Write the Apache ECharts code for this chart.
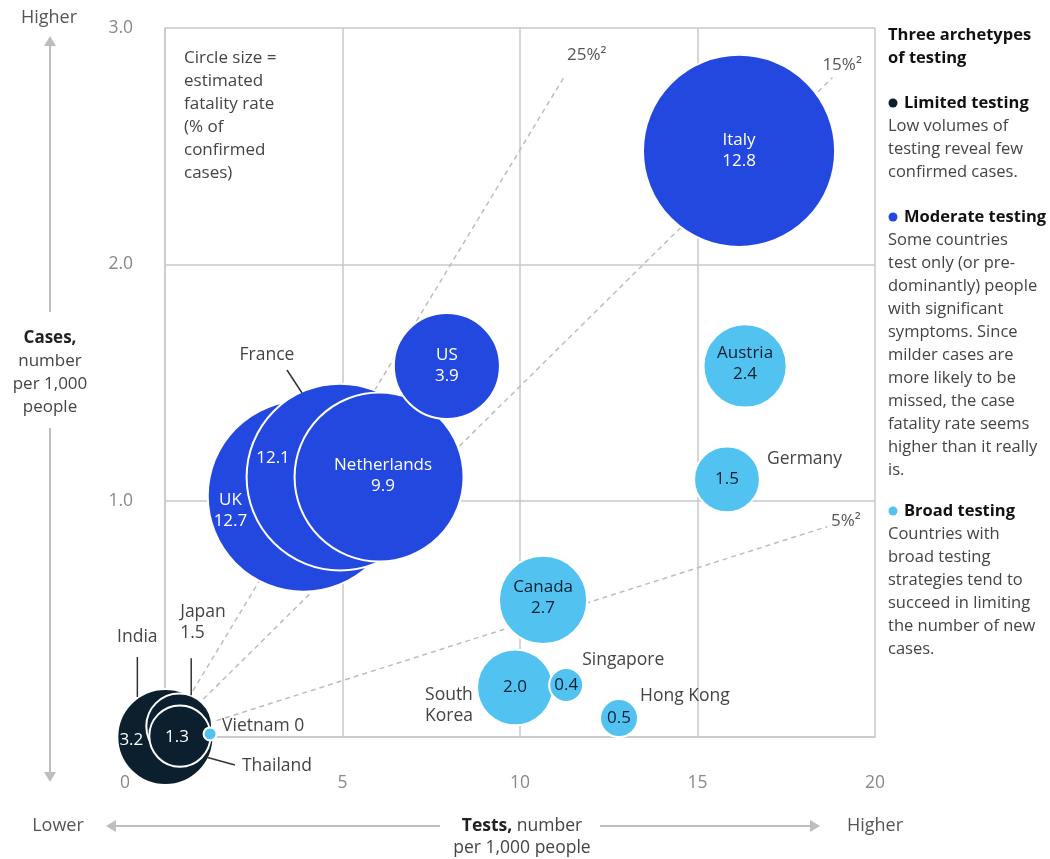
<!DOCTYPE html>
<html><head><meta charset="utf-8">
<script src="https://cdn.jsdelivr.net/npm/echarts@6/dist/echarts.min.js"></script>
<style>html,body{margin:0;padding:0;background:#fff}#c{width:1050px;height:859px}</style>
</head><body><div id="c"></div><script>
// ---------- DATA ----------
const countries = ['India','Japan','Thailand','UK','France','Netherlands','US','Italy','Vietnam','Canada','South Korea','Singapore','Hong Kong','Austria','Germany'];
const testsPer1000 = [0.01, 0.4, 0.42, 3.9, 4.93, 6.03, 7.94, 16.17, 1.27, 10.65, 9.86, 11.3, 12.79, 16.34, 15.83];
const casesPer1000 = [0.0, 0.045, 0.004, 1.02, 1.10, 1.10, 1.57, 2.48, 0.013, 0.58, 0.21, 0.22, 0.08, 1.57, 1.09];
const fatalityRate = [3.2, 1.5, 1.3, 12.7, 12.1, 9.9, 3.9, 12.8, 0, 2.7, 2.0, 0.4, 0.5, 2.4, 1.5];
const archetype = ['Limited','Limited','Limited','Moderate','Moderate','Moderate','Moderate','Moderate','Broad','Broad','Broad','Broad','Broad','Broad','Broad'];
const archetypes = ['Limited','Moderate','Broad'];
const positivityLabels = ['25%²','15%²','5%²'];
const positivityStart = [[0,0],[0,0],[0,0]];
const positivityEnd = [[11.27,2.80],[18.8,2.79],[18.65,0.89]];
const xTickLabels = ['0','5','10','15','20'];
const yTickLabels = ['0','1.0','2.0','3.0'];

// ---------- STYLE ----------
const FONT = '"Open Sans", sans-serif';
const colors = {Limited:'#0b1f2e', Moderate:'#2348e0', Broad:'#52c3f1'};
const innerText = {Limited:'#ffffff', Moderate:'#ffffff', Broad:'#0b1f2e'};
const inner = {
  'India':{t:'value',o:[-34,3]}, 'Japan':{t:'none'}, 'Thailand':{t:'value',o:[-3,1]},
  'UK':{t:'both',o:[-73,15]}, 'France':{t:'value',o:[-67,-19]}, 'Netherlands':{t:'both',o:[4,-1]},
  'US':{t:'both',o:[0,0]}, 'Italy':{t:'both',o:[0,0]}, 'Vietnam':{t:'none'},
  'Canada':{t:'both',o:[0,-2]}, 'South Korea':{t:'value',o:[0,0]}, 'Singapore':{t:'value',o:[0,0]},
  'Hong Kong':{t:'value',o:[0,0]}, 'Austria':{t:'both',o:[0,-2]}, 'Germany':{t:'value',o:[0,0]}
};
const outer = {
  'India':{text:'India', o:[-28,-100], align:'center', line:[[-28,-80],[-28,-40]]},
  'Japan':{text:'Japan\n1.5', o:[1,-104], align:'left', line:[[12,-68],[12,-31]]},
  'Thailand':{text:'Thailand', o:[62,30], align:'left', line:[[26,21],[55,29]]},
  'Vietnam':{text:'Vietnam 0', o:[12,-8], align:'left'},
  'France':{text:'France', o:[-73,-122], align:'center', line:[[-53,-107],[-38,-84]]},
  'Germany':{text:'Germany', o:[40,-20], align:'left'},
  'South Korea':{text:'South\nKorea', o:[-90,18], align:'left'},
  'Singapore':{text:'Singapore', o:[16,-25], align:'left'},
  'Hong Kong':{text:'Hong Kong', o:[21,-22], align:'left'}
};
const lineLabelOffset = [[-6,-20],[-18,-12],[-4,-6]];
const sizeK = 53.7;

function bubbleSize(v){ return Math.max(13, sizeK*Math.sqrt(v)); }

const scatterSeries = archetypes.map(a => {
  const data = [];
  countries.forEach((c,i) => {
    if (archetype[i] !== a) return;
    const L = inner[c];
    const fmt = L.t==='both' ? c+'\n'+fatalityRate[i].toFixed(1) : (L.t==='value' ? fatalityRate[i].toFixed(1) : '');
    data.push({
      name:c, value:[testsPer1000[i], casesPer1000[i], fatalityRate[i]],
      label:{show:L.t!=='none', position:'inside', offset:L.o||[0,0], formatter:fmt}
    });
  });
  return {
    type:'scatter', name:a, data, z:5,
    symbolSize: v => bubbleSize(v[2]),
    itemStyle:{color:colors[a], opacity:1, borderColor:'#ffffff', borderWidth:2},
    label:{color:innerText[a], fontFamily:FONT, fontSize:17, lineHeight:21},
    emphasis:{disabled:true}, silent:true
  };
});

const lineSeries = positivityLabels.map((lab,k) => ({
  type:'line', data:[positivityStart[k], positivityEnd[k]], symbol:'none', z:2, silent:true,
  lineStyle:{color:'#bdbdbd', width:1.5, type:[5,4]},
  endLabel:{show:true, formatter:lab, color:'#555', fontFamily:FONT, fontSize:17, offset:lineLabelOffset[k]}
}));

const chart = echarts.init(document.getElementById('c'), null, {renderer:'canvas'});
const option = {
  animation:false,
  backgroundColor:'#fff',
  grid:{left:165, top:28, right:175, bottom:122},
  xAxis:{type:'value', min:0, max:20, interval:5,
    axisLine:{show:true, lineStyle:{color:'#c8c8c8', width:1.5}}, axisTick:{show:false},
    splitLine:{lineStyle:{color:'#c8c8c8', width:1.5}},
    axisLabel:{margin:37, color:'#888', fontFamily:FONT, fontSize:17.5,
      formatter:(v)=> v===0 ? '' : xTickLabels[Math.round(v/5)]}},
  yAxis:{type:'value', min:0, max:3, interval:1,
    axisLine:{show:true, lineStyle:{color:'#c8c8c8', width:1.5}}, axisTick:{show:false},
    splitLine:{lineStyle:{color:'#c8c8c8', width:1.5}},
    axisLabel:{margin:32, color:'#888', fontFamily:FONT, fontSize:17.5,
      formatter:(v)=> v===0 ? '' : yTickLabels[Math.round(v)]}},
  series:[...lineSeries, ...scatterSeries]
};
chart.setOption(option);

// ---------- annotations ----------
const g = [];
function txt(x,y,text,opt){ g.push({type:'text', x, y, z:20, style:Object.assign({text, fill:'#333', font:'16.5px '+FONT, textAlign:'left', textVerticalAlign:'middle'}, opt||{})}); }
function ln(x1,y1,x2,y2,stroke,w){ g.push({type:'line', z:20, shape:{x1,y1,x2,y2}, style:{stroke:stroke||'#333', lineWidth:w||1.5}}); }
function poly(points,fill){ g.push({type:'polygon', z:20, shape:{points}, style:{fill}}); }

txt(125,783,'0',{fill:'#888', font:'17.5px '+FONT, textAlign:'center'});

countries.forEach((c,i) => {
  const O = outer[c]; if (!O) return;
  const p = chart.convertToPixel({gridIndex:0},[testsPer1000[i], casesPer1000[i]]);
  const lines = O.text.split('\n');
  lines.forEach((s,j) => txt(p[0]+O.o[0], p[1]+O.o[1]+j*21 - (lines.length-1)*10.5, s, {textAlign:O.align, fill:'#444', font:'17.5px '+FONT}));
  if (O.line) ln(p[0]+O.line[0][0], p[1]+O.line[0][1], p[0]+O.line[1][0], p[1]+O.line[1][1], '#333', 1.5);
});

['Circle size =','estimated','fatality rate','(% of','confirmed','cases)'].forEach((s,j)=>txt(184,58+j*23,s,{fill:'#444', font:'17px '+FONT}));

const ac = '#bdbdbd';
txt(49,18,'Higher',{textAlign:'center', fill:'#555', font:'18px '+FONT});
ln(50,44,50,312,ac,2); poly([[44,46],[56,46],[50,36]],ac);
ln(50,428,50,774,ac,2); poly([[44,772],[56,772],[50,782]],ac);
txt(50,338,'Cases,',{textAlign:'center', font:'bold 17px '+FONT, fill:'#222'});
['number','per 1,000','people'].forEach((s,j)=>txt(50,361+j*23,s,{textAlign:'center', fill:'#444', font:'17px '+FONT}));

txt(58,826,'Lower',{textAlign:'center', fill:'#555', font:'18px '+FONT});
txt(875,826,'Higher',{textAlign:'center', fill:'#555', font:'18px '+FONT});
ln(114,826,440,826,ac,2); poly([[116,820],[116,832],[106,826]],ac);
ln(600,826,812,826,ac,2); poly([[810,820],[810,832],[820,826]],ac);
g.push({type:'text', x:522, y:826, z:20, style:{text:'{b|Tests,} number', textAlign:'center', textVerticalAlign:'middle', font:'17.5px '+FONT, fill:'#444',
  rich:{b:{font:'bold 17.5px '+FONT, fill:'#222'}}}});
txt(522,848,'per 1,000 people',{textAlign:'center', fill:'#444', font:'17.5px '+FONT});

const RX = 888;
txt(RX,35,'Three archetypes',{font:'bold 16.5px '+FONT, fill:'#111'});
txt(RX,58,'of testing',{font:'bold 16.5px '+FONT, fill:'#111'});
const panel = [
  {y:103, key:'Limited', head:'Limited testing', body:['Low volumes of','testing reveal few','confirmed cases.']},
  {y:217, key:'Moderate', head:'Moderate testing', body:['Some countries','test only (or pre-','dominantly) people','with significant','symptoms. Since','milder cases are','more likely to be','missed, the case','fatality rate seems','higher than it really','is.']},
  {y:511, key:'Broad', head:'Broad testing', body:['Countries with','broad testing','strategies tend to','succeed in limiting','the number of new','cases.']}
];
panel.forEach(P => {
  g.push({type:'circle', z:20, shape:{cx:RX+5, cy:P.y, r:4.5}, style:{fill:colors[P.key]}});
  txt(RX+16,P.y,P.head,{font:'bold 16.5px '+FONT, fill:'#111'});
  P.body.forEach((s,j)=>txt(RX,P.y+23*(j+1),s,{fill:'#444'}));
});

chart.setOption({graphic:{elements:g}});
</script></body></html>
